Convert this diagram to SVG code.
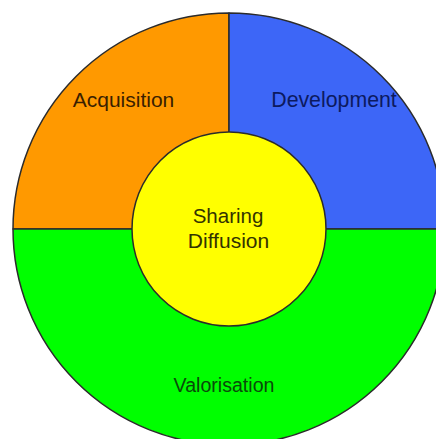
<svg xmlns="http://www.w3.org/2000/svg" width="436" height="439" viewBox="0 0 436 439">
  <style>
    .seg { stroke: #2b2b2b; stroke-width: 1.5; stroke-linejoin: round; }
    .lbl { font-family: "Liberation Sans", Arial, sans-serif; text-anchor: middle; }
  </style>
  <rect width="436" height="439" fill="#ffffff"/>
  <g id="acquisition">
    <path class="seg" d="M229,229 L13,229 A216,216 0 0 1 229,13 Z" fill="#ff9900"/>
    <text class="lbl" x="123.5" y="107" font-size="21" fill="#3a1f00">Acquisition</text>
  </g>
  <g id="development">
    <path class="seg" d="M229,229 L229,13 A216,216 0 0 1 445,229 Z" fill="#3d66f7"/>
    <text class="lbl" x="334" y="107" font-size="21.3" fill="#0c1a60">Development</text>
  </g>
  <g id="valorisation">
    <path class="seg" d="M13,229 A216,216 0 0 0 445,229 Z" fill="#00ff00"/>
    <text class="lbl" x="224" y="391.5" font-size="19.6" fill="#0a4a0a">Valorisation</text>
  </g>
  <g id="sharing-diffusion">
    <circle class="seg" cx="229" cy="229" r="97" fill="#ffff00"/>
    <text class="lbl" x="228" y="223" font-size="20.5" fill="#333300">Sharing</text>
    <text class="lbl" x="228.5" y="248.3" font-size="21" fill="#333300">Diffusion</text>
  </g>
  <g id="connectors"/>
</svg>
